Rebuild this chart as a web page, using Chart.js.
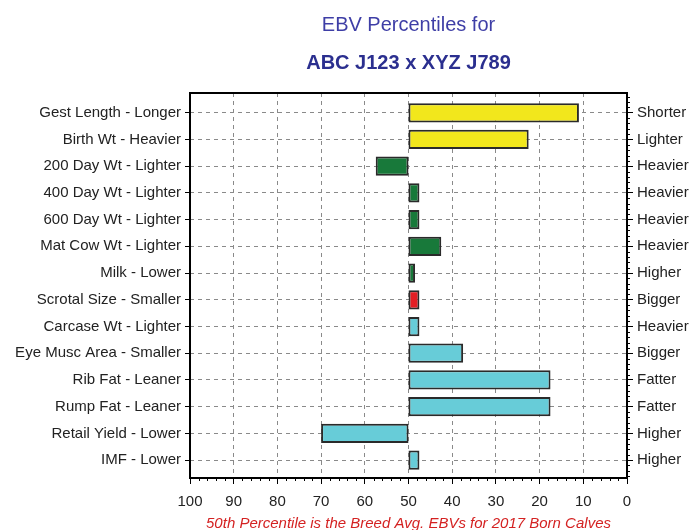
<!DOCTYPE html>
<html>
<head>
<meta charset="utf-8">
<script src="https://cdn.jsdelivr.net/npm/chart.js@4/dist/chart.umd.min.js"></script>
<style>
  html, body { margin: 0; padding: 0; background: #fff; }
  #wrap { width: 690px; height: 530px; }
</style>
</head>
<body>
<div id="wrap"><canvas id="ebvChart"></canvas></div>
<script>
// Traits (left) and the direction shown on the right
const leftLabels = [
    'Gest Length - Longer', 'Birth Wt - Heavier', '200 Day Wt - Lighter',
    '400 Day Wt - Lighter', '600 Day Wt - Lighter', 'Mat Cow Wt - Lighter',
    'Milk - Lower', 'Scrotal Size - Smaller', 'Carcase Wt - Lighter',
    'Eye Musc Area - Smaller', 'Rib Fat - Leaner', 'Rump Fat - Leaner',
    'Retail Yield - Lower', 'IMF - Lower'
];
const rightLabels = [
    'Shorter', 'Lighter', 'Heavier', 'Heavier', 'Heavier', 'Heavier',
    'Higher', 'Bigger', 'Heavier', 'Bigger', 'Fatter', 'Fatter',
    'Higher', 'Higher'
];
// Percentile for each trait, bars start at the breed average (50)
const breedAvg = 50;
const percentiles = [11, 22.5, 57.5, 47.5, 47.5, 42.5, 48.5, 47.5, 47.5, 37.5, 17.5, 17.5, 70, 47.5];
const barColors = [
    '#F2E71C', '#F2E71C', '#18793A', '#18793A', '#18793A', '#18793A',
    '#18793A', '#E31E24', '#67CCD8', '#67CCD8', '#67CCD8', '#67CCD8',
    '#67CCD8', '#67CCD8'
];
const titleLine = 'EBV Percentiles for';
const subTitleLine = 'ABC J123 x XYZ J789';
const footNote = '50th Percentile is the Breed Avg. EBVs for 2017 Born Calves';

const fontFamily = '"Liberation Sans", Arial, sans-serif';
const gridGrey = '#8a8a8a';
// a little more room above the first row than below the last one
const rowMin = -0.74;
const rowMax = leftLabels.length - 1 + 0.67;

// Box round the plot area, short minor ticks and the red note under the axis
const framePlugin = {
    id: 'frame',
    afterDraw(chart) {
        const { ctx, chartArea } = chart;
        const xScale = chart.scales.x;
        const rScale = chart.scales.y2;
        ctx.save();
        ctx.lineWidth = 1;
        ctx.strokeStyle = '#000';
        ctx.beginPath();
        xScale.ticks.forEach(t => {
            if (t.value % 10 !== 0) {
                const px = Math.round(xScale.getPixelForValue(t.value)) + 0.5;
                ctx.moveTo(px, chartArea.bottom);
                ctx.lineTo(px, chartArea.bottom + 3);
            }
        });
        for (let r = Math.ceil(rowMin * 5) / 5; r <= rowMax; r += 0.2) {
            const k = Math.round(r * 5);
            if (k % 5 === 0) continue;
            const py = Math.round(rScale.getPixelForValue(k / 5)) + 0.5;
            ctx.moveTo(chartArea.right, py);
            ctx.lineTo(chartArea.right + 3, py);
        }
        ctx.stroke();

        ctx.lineWidth = 2;
        ctx.strokeRect(chartArea.left, chartArea.top,
            chartArea.right - chartArea.left, chartArea.bottom - chartArea.top);
        ctx.font = 'italic 15px ' + fontFamily;
        ctx.fillStyle = '#D42222';
        ctx.textAlign = 'center';
        ctx.textBaseline = 'middle';
        ctx.fillText(footNote, (chartArea.left + chartArea.right) / 2, chartArea.bottom + 46);
        ctx.restore();
    }
};

const rowTicks = (labels) => ({
    stepSize: 1,
    includeBounds: false,
    autoSkip: false,
    color: '#222',
    font: { family: fontFamily, size: 15 },
    padding: 4,
    callback: (value) => (Number.isInteger(value) && labels[value] !== undefined ? labels[value] : '')
});

const ctx = document.getElementById('ebvChart').getContext('2d');
const chart = new Chart(ctx, {
    type: 'bar',
    data: {
        datasets: [{
            data: percentiles.map((v, i) => ({ y: i, x: [breedAvg, v] })),
            backgroundColor: barColors,
            borderColor: '#2a2a2a',
            borderWidth: 2,
            borderSkipped: false,
            categoryPercentage: 1,
            barPercentage: 0.72
        }]
    },
    options: {
        indexAxis: 'y',
        responsive: true,
        maintainAspectRatio: false,
        animation: false,
        layout: { padding: 0 },
        plugins: {
            legend: { display: false },
            tooltip: { enabled: false },
            title: {
                display: true,
                text: titleLine,
                fullSize: false,
                color: '#3E3EA6',
                font: { family: fontFamily, size: 20, weight: 'normal' },
                padding: { top: 13, bottom: 7 }
            },
            subtitle: {
                display: true,
                text: subTitleLine,
                fullSize: false,
                color: '#2B2F8F',
                font: { family: fontFamily, size: 20, weight: 'bold' },
                padding: { top: 7, bottom: 18 }
            }
        },
        scales: {
            x: {
                type: 'linear',
                min: 0,
                max: 100,
                reverse: true,
                afterFit: (scale) => { scale.height = 52; },
                ticks: {
                    stepSize: 2,
                    autoSkip: false,
                    maxRotation: 0,
                    color: '#222',
                    font: { family: fontFamily, size: 15 },
                    padding: 9,
                    callback: (value) => (value % 10 === 0 ? value : '')
                },
                grid: {
                    color: (c) => (c.tick && c.tick.value % 10 === 0 ? gridGrey : 'rgba(0,0,0,0)'),
                    tickColor: (c) => (c.tick && c.tick.value % 10 === 0 ? '#000' : 'rgba(0,0,0,0)'),
                    tickLength: 6
                },
                border: { display: false, dash: [4, 4] }
            },
            y: {
                type: 'linear',
                min: rowMin,
                max: rowMax,
                reverse: true,
                offset: false,
                afterFit: (scale) => { scale.width = 190; },
                ticks: rowTicks(leftLabels),
                grid: {
                    offset: false,
                    color: gridGrey,
                    tickColor: '#000',
                    tickLength: 5
                },
                border: { display: false, dash: [4, 4] }
            },
            y2: {
                type: 'linear',
                min: rowMin,
                max: rowMax,
                reverse: true,
                offset: false,
                position: 'right',
                afterFit: (scale) => { scale.width = 63; },
                ticks: rowTicks(rightLabels),
                grid: {
                    offset: false,
                    drawOnChartArea: false,
                    tickColor: '#000',
                    tickLength: 6
                },
                border: { display: false }
            }
        }
    },
    plugins: [framePlugin]
});
</script>
</body>
</html>
